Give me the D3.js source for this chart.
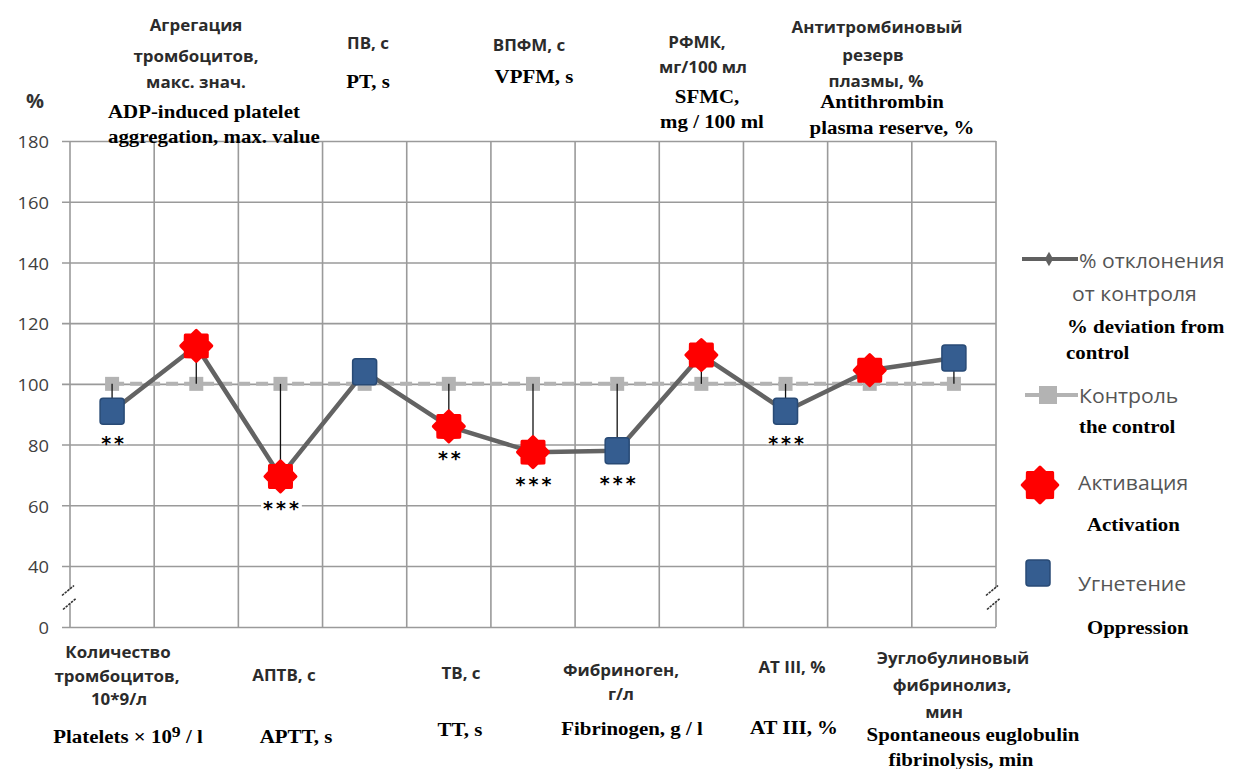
<!DOCTYPE html>
<html><head><meta charset="utf-8">
<script src="https://cdn.jsdelivr.net/npm/d3@7"></script>
<style>body{margin:0;background:#fff}svg{display:block}</style>
</head><body>
<script>
// ---------- DATA ----------
const categories = ["Количество тромбоцитов","Агрегация тромбоцитов","АПТВ","ПВ","ТВ","ВПФМ","Фибриноген","РФМК","АТ III","Антитромбиновый резерв","Эуглобулиновый фибринолиз"];
const deviation = [91, 112.5, 69.5, 104, 86, 77.5, 78, 109.5, 91, 104.5, 108.5];
const control = [100, 100, 100, 100, 100, 100, 100, 100, 100, 100, 100];
const effect = ["oppression","activation","activation","oppression","activation","activation","oppression","activation","oppression","activation","oppression"];
const significance = ["**","","***","","**","***","***","","***","",""];
const yTicks = [0, 40, 60, 80, 100, 120, 140, 160, 180];

const topLabelRu = [null,["Агрегация","тромбоцитов,","макс. знач."],null,["ПВ, с"],null,["ВПФМ, с"],null,["РФМК,","мг/100 мл"],null,["Антитромбиновый","резерв","плазмы, %"],null];
const topLabelEn = [null,["ADP-induced platelet","aggregation, max. value"],null,["PT, s"],null,["VPFM, s"],null,["SFMC,","mg / 100 ml"],null,["Antithrombin","plasma reserve, %"],null];
const bottomLabelRu = [["Количество","тромбоцитов,","10*9/л"],null,["АПТВ, с"],null,["ТВ, с"],null,["Фибриноген,","г/л"],null,["АТ III, %"],null,["Эуглобулиновый","фибринолиз,","мин"]];
const bottomLabelEn = [["Platelets × 10|9| / l"],null,["APTT,  s"],null,["TT, s"],null,["Fibrinogen, g / l"],null,["AT III, %"],null,["Spontaneous euglobulin","fibrinolysis, min"]];

const legendRu = ["% отклонения", "от контроля", "Контроль", "Активация", "Угнетение"];
const legendEn = ["% deviation from", "control", "the control", "Activation", "Oppression"];

// ---------- LAYOUT ----------
const W = 1234, H = 769;
const left = 70, right = 996;
const sx = 1.16; // horizontal text stretch (serif)
const sxRu = 1.06;
const RU_FONT = "'Open Sans', sans-serif";
const EN_FONT = "'Liberation Serif', 'Times New Roman', serif";

const topRuPos = {1:[[196,25],[196,56],[196,82]],3:[[368,43]],5:[[529,45]],7:[[697,42],[703,67]],9:[[877,27],[873,55],[876,81]]};
const topEnPos = {1:[[108,112,"start"],[108,137,"start"]],3:[[368,82]],5:[[534,77]],7:[[707,97],[712,122]],9:[[882,102],[892,128]]};
const botRuPos = {0:[[118,652],[117,676],[119,699]],2:[[284,675]],4:[[461,673]],6:[[621,670],[621,694]],8:[[792,667]],10:[[953,658],[952,685],[944,712]]};
const botEnPos = {0:[[128,737]],2:[[296,737]],4:[[460,730]],6:[[632,729]],8:[[794,728]],10:[[973,735],[961,760]]};

const svg = d3.select("body").append("svg").attr("width", W).attr("height", H);

const x = d3.scaleBand().domain(categories).range([left, right]).padding(0);
const cx = c => x(c) + x.bandwidth() / 2;
const y = d3.scaleLinear().domain([0, 40, 180]).range([627, 566, 141]);

const grid = svg.append("g");
const gridColor = "#9a9a9a";
const vx = categories.map(c => x(c)).concat([right]);
grid.selectAll("line.v").data(vx).join("line")
  .attr("x1", d => d).attr("x2", d => d)
  .attr("y1", y(180)).attr("y2", y(0))
  .attr("stroke", gridColor).attr("stroke-width", 1.6);

const yAxis = d3.axisLeft(y).tickValues(yTicks).tickSizeInner(0).tickSizeOuter(0).tickPadding(0);
const ga = svg.append("g").attr("transform", `translate(${left},0)`).call(yAxis);
ga.select(".domain").remove();
ga.selectAll(".tick line").attr("x1", -8).attr("x2", right - left)
  .attr("stroke", gridColor).attr("stroke-width", 1.6);
ga.selectAll(".tick text")
  .attr("x", null).attr("dy", null)
  .attr("dominant-baseline", "central")
  .attr("transform", `translate(-21,0) scale(1.08,1)`)
  .attr("font-family", RU_FONT).attr("font-size", 17).attr("fill", "#404040")
  .attr("text-anchor", "end");

function brk(xc) {
  const yb = y(20) - 1;
  const g = svg.append("g");
  g.append("polygon")
    .attr("points", `${xc-9},${yb+1} ${xc+5},${yb-10} ${xc+6},${yb+4} ${xc-8},${yb+14}`)
    .attr("fill", "#fff");
  [[-8, 0, 4, -10], [-7, 14, 6, 3]].forEach(([a, b, c, d]) => {
    g.append("line").attr("x1", xc + a).attr("y1", yb + b).attr("x2", xc + c).attr("y2", yb + d)
      .attr("stroke", "#333").attr("stroke-width", 1.6).attr("stroke-dasharray", "2.5,1");
  });
}
brk(left); brk(right - 2);

svg.append("text").attr("x", 35).attr("y", 100).attr("text-anchor", "middle")
  .attr("dominant-baseline", "central")
  .attr("font-family", RU_FONT).attr("font-weight", 700).attr("font-size", 20)
  .attr("fill", "#333").text("%");

const ctrlColor = "#b3b3b3";
const line = d3.line().x((d, i) => cx(categories[i])).y(d => y(d));
svg.append("path").datum(control).attr("d", line).attr("fill", "none")
  .attr("stroke", ctrlColor).attr("stroke-width", 4).attr("stroke-dasharray", "12,6");
svg.selectAll("rect.ctrl").data(control).join("rect")
  .attr("x", (d, i) => cx(categories[i]) - 7).attr("y", d => y(d) - 7)
  .attr("width", 14).attr("height", 14).attr("fill", ctrlColor);

svg.selectAll("line.hl").data(deviation).join("line")
  .attr("x1", (d, i) => cx(categories[i])).attr("x2", (d, i) => cx(categories[i]))
  .attr("y1", (d, i) => y(control[i])).attr("y2", d => y(d))
  .attr("stroke", "#111").attr("stroke-width", 1.3);

svg.append("path").datum(deviation).attr("d", line).attr("fill", "none")
  .attr("stroke", "#636363").attr("stroke-width", 4.5).attr("stroke-linejoin", "round");

function starPath(R, r, n) {
  const pts = [];
  for (let k = 0; k < 2 * n; k++) {
    const a = -Math.PI / 2 + k * Math.PI / n;
    const rr = k % 2 === 0 ? R : r;
    pts.push([rr * Math.cos(a), rr * Math.sin(a)]);
  }
  return "M" + pts.map(p => p.join(",")).join("L") + "Z";
}
const RED = "#ff0000", BLUE = "#355d90", BLUE_EDGE = "#284a75";
function drawMarker(g, type, px, py, scale) {
  if (type === "activation") {
    g.append("path").attr("d", starPath(15.5 * scale, 12 * scale, 8))
      .attr("transform", `translate(${px},${py})`)
      .attr("fill", RED).attr("stroke", RED).attr("stroke-width", 3).attr("stroke-linejoin", "round");
  } else {
    const w = 24 * scale, h = 26 * scale;
    g.append("rect").attr("x", px - w / 2).attr("y", py - h / 2).attr("width", w).attr("height", h)
      .attr("rx", 3).attr("fill", BLUE).attr("stroke", BLUE_EDGE).attr("stroke-width", 1.5);
  }
}
const mk = svg.append("g");
deviation.forEach((d, i) => drawMarker(mk, effect[i], cx(categories[i]), y(d), 1));

const sg = svg.append("g");
deviation.forEach((d, i) => {
  if (!significance[i]) return;
  const t = sg.append("text").attr("x", cx(categories[i]) + 2).attr("y", y(d) + 39)
    .attr("text-anchor", "middle")
    .attr("font-family", "'DejaVu Sans', sans-serif").attr("font-weight", 700)
    .attr("font-size", 19).attr("letter-spacing", 3).attr("fill", "#000")
    .text(significance[i]);
  const bb = t.node().getBBox();
  sg.insert("rect", "text").attr("x", bb.x - 2).attr("y", y(d) + 20).attr("width", bb.width + 2)
    .attr("height", 13).attr("fill", "#fff");
});

function label(g, txt, px, py, anchor, font, weight, size, color, stretch) {
  const t = g.append("text")
    .attr("transform", `translate(${px},${py}) scale(${stretch},1)`)
    .attr("text-anchor", anchor || "middle").attr("dominant-baseline", "central")
    .attr("font-family", font).attr("font-weight", weight).attr("font-size", size).attr("fill", color);
  const parts = txt.split("|");
  if (parts.length === 1) { t.text(txt); return t; }
  t.append("tspan").text(parts[0]);
  t.append("tspan").attr("dy", -6).attr("font-size", size * 0.85).text(parts[1]);
  t.append("tspan").attr("dy", 6).text(parts[2]);
  return t;
}
const lg = svg.append("g");
function placeAll(textArr, posMap, font, weight, size, color, stretch) {
  textArr.forEach((lines, i) => {
    if (!lines) return;
    lines.forEach((s, j) => {
      const p = posMap[i][j];
      label(lg, s, p[0], p[1], p[2], font, weight, size, color, stretch);
    });
  });
}
placeAll(topLabelRu, topRuPos, RU_FONT, 700, 16, "#2b2b2b", sxRu);
placeAll(topLabelEn, topEnPos, EN_FONT, 700, 18, "#000", sx);
placeAll(bottomLabelRu, botRuPos, RU_FONT, 700, 16, "#2b2b2b", sxRu);
placeAll(bottomLabelEn, botEnPos, EN_FONT, 700, 18, "#000", sx);

const L = svg.append("g");
L.append("line").attr("x1", 1022).attr("x2", 1078).attr("y1", 259).attr("y2", 259)
  .attr("stroke", "#606060").attr("stroke-width", 4);
L.append("path").attr("d", d3.symbol(d3.symbolDiamond, 60)()).attr("transform", "translate(1049,259)")
  .attr("fill", "#606060");
L.append("line").attr("x1", 1025).attr("x2", 1078).attr("y1", 395).attr("y2", 395)
  .attr("stroke", ctrlColor).attr("stroke-width", 4);
L.append("rect").attr("x", 1039).attr("y", 386).attr("width", 18).attr("height", 18).attr("fill", ctrlColor);
drawMarker(L, "activation", 1040, 485, 1.15);
drawMarker(L, "oppression", 1038, 573, 1.0);

const legRuPos = [[1079,260],[1072,293],[1079,395],[1078,482],[1078,583]];
const legEnPos = [[1067,327],[1066,353],[1079,427],[1087,525],[1087,628]];
legendRu.forEach((s, i) => label(L, s, legRuPos[i][0], legRuPos[i][1], "start", RU_FONT, 400, 20, "#555", 1.06));
legendEn.forEach((s, i) => label(L, s, legEnPos[i][0], legEnPos[i][1], "start", EN_FONT, 700, 18, "#000", sx));
</script>
</body></html>
